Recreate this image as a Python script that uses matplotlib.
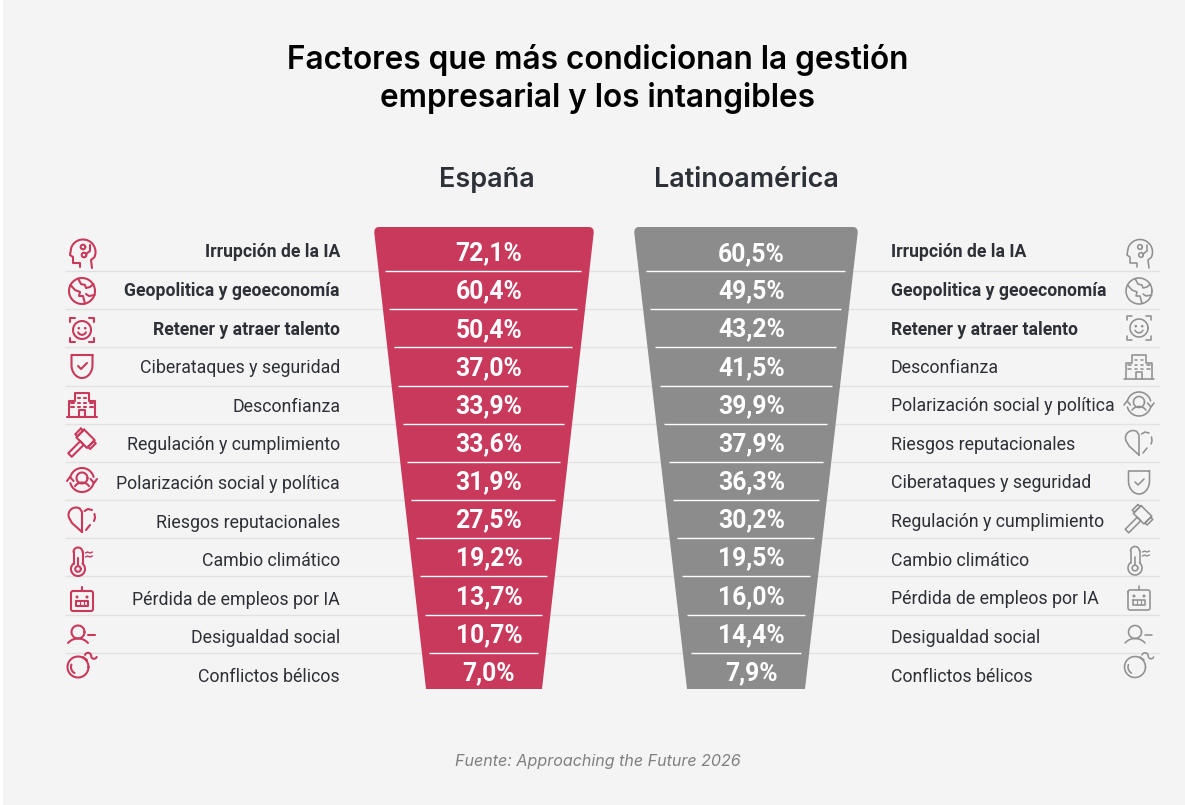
#!/usr/bin/env python3
# -*- coding: utf-8 -*-
"""Factores que condicionan la gestion: dos embudos con iconos de linea"""

import numpy as np
import matplotlib
matplotlib.use('Agg')
import matplotlib.pyplot as plt
from matplotlib.patches import PathPatch
from matplotlib.path import Path

# Datos
labels_es = ['Irrupción de la IA', 'Geopolitica y geoeconomía', 'Retener y atraer talento',
             'Ciberataques y seguridad', 'Desconfianza', 'Regulación y cumplimiento',
             'Polarización social y política', 'Riesgos reputacionales', 'Cambio climático',
             'Pérdida de empleos por IA', 'Desigualdad social', 'Conflictos bélicos']
values_es = [72.1, 60.4, 50.4, 37.0, 33.9, 33.6, 31.9, 27.5, 19.2, 13.7, 10.7, 7.0]

labels_la = ['Irrupción de la IA', 'Geopolitica y geoeconomía', 'Retener y atraer talento',
             'Desconfianza', 'Polarización social y política', 'Riesgos reputacionales',
             'Ciberataques y seguridad', 'Regulación y cumplimiento', 'Cambio climático',
             'Pérdida de empleos por IA', 'Desigualdad social', 'Conflictos bélicos']
values_la = [60.5, 49.5, 43.2, 41.5, 39.9, 37.9, 36.3, 30.2, 19.5, 16.0, 14.4, 7.9]

n_bold = 3

# Layout en pixeles
label_y_es = [252, 291, 330, 368, 407, 445, 484, 523, 561, 600, 638, 677]
label_y_la = [252, 291, 330, 368, 406, 445, 483, 522, 561, 599, 638, 677]
value_y_es = [253, 291, 330, 368, 406, 444, 482, 520, 558, 597, 635, 673]
value_y_la = [254, 291, 329, 368, 406, 444, 482, 520, 558, 597, 635, 673]
row_lines = [271, 309, 347, 386, 424, 462, 500, 538, 576, 615, 653]
icon_y_es = [253, 291, 330, 367, 404, 443, 480, 520, 562, 600, 633, 665]
icon_y_la = [253, 291, 328, 366, 404, 443, 483, 519, 561, 599, 633, 665]

RED = '#C8395C'
GREY = '#8C8C8C'
BG = '#F4F4F4'
TEXT = '#2D3036'
SEP = '#E2E2E2'

fig = plt.figure(figsize=(11.85, 8.05), dpi=100, facecolor='white')
ax = fig.add_axes([0, 0, 1, 1])
ax.set_xlim(0, 1185)
ax.set_ylim(805, 0)
ax.axis('off')
ax.add_patch(plt.Rectangle((3, 0), 1182, 805, facecolor=BG, edgecolor='none'))


def arc_pts(cx, cy, r, a1, a2, n=40):
    t = np.radians(np.linspace(a1, a2, n))
    return np.column_stack([cx + r * np.cos(t), cy + r * np.sin(t)])


class Icon:
    """Dibuja lineas alrededor de un centro, en pixeles"""

    def __init__(self, cx, cy, color, lw):
        self.cx, self.cy, self.color, self.lw = cx, cy, color, lw

    def line(self, pts, lw=None):
        pts = np.asarray(pts, dtype=float)
        ax.plot(pts[:, 0] + self.cx, pts[:, 1] + self.cy, color=self.color,
                lw=lw or self.lw, solid_capstyle='round', solid_joinstyle='round', zorder=4)

    def arc(self, x, y, r, a1=0, a2=360):
        self.line(arc_pts(x, y, r, a1, a2))

    def dot(self, x, y, r=1.3):
        ax.add_patch(plt.Circle((x + self.cx, y + self.cy), r, color=self.color, lw=0, zorder=4))


def icon_head(c):
    pts = np.vstack([[[-2, 14], [-2, 10], [-9, 10], [-9, 4], [-12, 2]],
                     arc_pts(1, -1, 12.5, 200, 385),
                     [[9, 7], [10, 15]]])
    c.line(pts)
    c.arc(1, -6, 2.3)
    c.arc(2, 2, 2.3)
    c.line([[4, 1], [8, -2], [8, -8]])


def icon_globe(c):
    c.arc(0, 0, 13)
    c.line([[-11.5, -6], [-7, -1], [-2, 1], [-3, 5], [1, 5], [3, 12.5]])
    c.line([[-4, -12.5], [-1, -7], [3, -6], [4, -3], [8, -4], [11.5, -7]])
    c.line([[12.7, 4], [7, 5], [4, 3]])


def icon_face(c):
    c.arc(0, 0, 9)
    c.dot(-3.2, -1.8)
    c.dot(3.2, -1.8)
    c.arc(0, 0.5, 4.3, 25, 155)
    for sx in (-1, 1):
        for sy in (-1, 1):
            c.line([[sx * 7, sy * 11.7], [sx * 11.7, sy * 11.7], [sx * 11.7, sy * 8]])


def icon_shield(c):
    t = np.radians(np.linspace(0, 180, 30))
    body = np.column_stack([10.5 * np.cos(t), -2 + 13 * np.sin(t)])
    c.line(np.vstack([[[10.5, -12]], body, [[-10.5, -12], [10.5, -12]]]))
    c.line([[-4, -1], [-1, 2], [5, -4]])


def icon_building(c):
    c.line([[-15, 13], [15, 13]])
    c.line([[-13, 13], [-13, -3], [-7, -3], [-7, -11], [7, -11], [7, -3], [13, -3], [13, 13]])
    c.line([[-3, 13], [-3, 6], [3, 6], [3, 13]])
    for x in (-9.5, -3, 3, 9.5):
        for y in (-6, -1, 3):
            if abs(x) < 5 or y > -3:
                c.line([[x - 1.2, y], [x + 1.2, y]])


def icon_gavel(c):
    # martillo girado 45 grados, mango hacia abajo a la izquierda
    rot = np.radians(45)
    rm = np.array([[np.cos(rot), -np.sin(rot)], [np.sin(rot), np.cos(rot)]])

    def box(x0, y0, x1, y1):
        p = np.array([[x0, y0], [x1, y0], [x1, y1], [x0, y1], [x0, y0]], dtype=float)
        c.line(p @ rm.T)
    box(-8, -11, 7, 0)
    box(-11, -9.5, -8, -1.5)
    box(7, -9.5, 10, -1.5)
    box(-2.5, 0, 2.5, 17)


def icon_polar(c):
    c.arc(0, -2, 5.5)
    c.arc(0, 11, 8.5, 215, 325)
    c.arc(0, 0, 12, 195, 345)
    c.arc(0, 0, 12, 15, 165)
    c.line([[-15, 1], [-12, -3], [-8.5, 1]])
    c.line([[8.5, -1], [12, 3], [15, -1]])


def icon_heart(c):
    left = np.vstack([[[0, 12], [-10, 3]], arc_pts(-6, -5, 7.5, 140, 300, 20), [[0, -8], [0, 12]]])
    c.line(left)
    c.line([[2.5, -9], [6, -11], [10, -10]])
    c.line([[12.5, -6], [13, -2], [12, 1]])
    c.line([[8, 5], [4, 10]])


def icon_thermo(c):
    c.arc(-4, 7, 7, -50, 230)
    c.line([[-8.5, 1.6], [-8.5, -10]])
    c.line([[0.5, 1.6], [0.5, -10]])
    c.arc(-4, -10, 4.5, 180, 360)
    c.arc(-4, 7, 2.8)
    c.line([[-4, 4], [-4, -4]])
    for y in (-9, -5):
        c.line([[3.5, y], [5.5, y - 1], [8, y], [10.5, y - 1]], lw=1.0)


def icon_robot(c):
    c.line(np.vstack([arc_pts(-9, -7, 2, 180, 270, 6), arc_pts(9, -7, 2, 270, 360, 6),
                      arc_pts(9, 9, 2, 0, 90, 6), arc_pts(-9, 9, 2, 90, 180, 6), [[-11, -7]]]))
    c.line([[0, -9], [0, -13]])
    c.dot(-5, -3, 1.5)
    c.dot(5, -3, 1.5)
    c.line([[-6, 1], [6, 1], [6, 6], [-6, 6], [-6, 1]])
    for x in (-2, 2):
        c.line([[x, 1], [x, 6]], lw=0.8)


def icon_person(c):
    c.arc(-4, -1, 6.5)
    c.arc(-4, 18.9, 13.4, 222, 318)
    c.line([[6, 2], [13, 2]])


def icon_bomb(c):
    c.arc(-4, 2, 10.5)
    c.arc(-4, 2, 7, 120, 200)
    c.line([[1, -8], [5, -5]])
    # mecha curva
    c.line(np.vstack([arc_pts(6, -9, 3.2, 200, 360, 12), arc_pts(12, -9, 2.8, 180, 20, 12)]))


ICONS = {
    'Irrupción de la IA': icon_head,
    'Geopolitica y geoeconomía': icon_globe,
    'Retener y atraer talento': icon_face,
    'Ciberataques y seguridad': icon_shield,
    'Desconfianza': icon_building,
    'Regulación y cumplimiento': icon_gavel,
    'Polarización social y política': icon_polar,
    'Riesgos reputacionales': icon_heart,
    'Cambio climático': icon_thermo,
    'Pérdida de empleos por IA': icon_robot,
    'Desigualdad social': icon_person,
    'Conflictos bélicos': icon_bomb,
}


def funnel(x0, x1, xb0, xb1, color):
    """Embudo con esquinas superiores redondeadas"""
    top, bot = 227, 689
    verts = [(xb0, bot), (x0 + 0.3, top + 6), (x0, top), (x0 + 5, top),
             (x1 - 5, top), (x1, top), (x1 - 0.3, top + 6), (xb1, bot), (xb0, bot)]
    codes = [Path.MOVETO, Path.LINETO, Path.CURVE3, Path.CURVE3, Path.LINETO,
             Path.CURVE3, Path.CURVE3, Path.LINETO, Path.CLOSEPOLY]
    ax.add_patch(PathPatch(Path(verts, codes), facecolor=color, edgecolor='none', zorder=2))


# Titulos
TITLE_FONT = ['Inter', 'DejaVu Sans']
for y, line in zip([59.5, 98.5], ['Factores que más condicionan la gestión', 'empresarial y los intangibles']):
    ax.text(598, y, line, ha='center', va='center', family=TITLE_FONT, fontsize=22.7,
            fontweight='semibold', color='black')
ax.text(487, 180, 'España', ha='center', va='center', family=TITLE_FONT, fontsize=19.4,
        fontweight='semibold', color=TEXT)
ax.text(746, 180, 'Latinoamérica', ha='center', va='center', family=TITLE_FONT, fontsize=19.4,
        fontweight='semibold', color=TEXT)
ax.text(598, 761, 'Fuente: Approaching the Future 2026', ha='center', va='center',
        family=TITLE_FONT, fontsize=11.55, style='italic', color='#808080')

# Separadores y embudos
for y in row_lines:
    ax.plot([65, 1160], [y, y], color=SEP, lw=1, zorder=1, solid_capstyle='butt')

funnel(374, 594, 426, 542, RED)
funnel(634, 858, 687, 805, GREY)

for y in row_lines:
    f = (y - 271) / (653 - 271)
    ax.plot([385 + f * 44, 581 - f * 43], [y, y], color='white', lw=1, zorder=3, solid_capstyle='butt')
    ax.plot([646 + f * 45, 845 - f * 44], [y, y], color='white', lw=1, zorder=3, solid_capstyle='butt')

# Filas
for i, (lab, val) in enumerate(zip(labels_es, values_es)):
    ax.text(340, label_y_es[i], lab, ha='right', va='center', family='Roboto',
            fontsize=12.72 if i < n_bold else 12.8,
            fontweight='bold' if i < n_bold else 'normal', color=TEXT)
    ax.text(489, value_y_es[i], f'{val:.1f}%'.replace('.', ','), ha='center', va='center',
            family='Roboto', fontsize=17.8, fontweight='bold', color='white', zorder=5)
    ICONS[lab](Icon(82, icon_y_es[i], RED, 1.5))

for i, (lab, val) in enumerate(zip(labels_la, values_la)):
    ax.text(891, label_y_la[i], lab, ha='left', va='center', family='Roboto',
            fontsize=12.72 if i < n_bold else 12.8,
            fontweight='bold' if i < n_bold else 'normal', color=TEXT)
    ax.text(751.5, value_y_la[i], f'{val:.1f}%'.replace('.', ','), ha='center', va='center',
            family='Roboto', fontsize=17.8, fontweight='bold', color='white', zorder=5)
    ICONS[lab](Icon(1139, icon_y_la[i], '#909090', 1.15))

fig.savefig('out.png', dpi=100, facecolor='white')
plt.close(fig)
